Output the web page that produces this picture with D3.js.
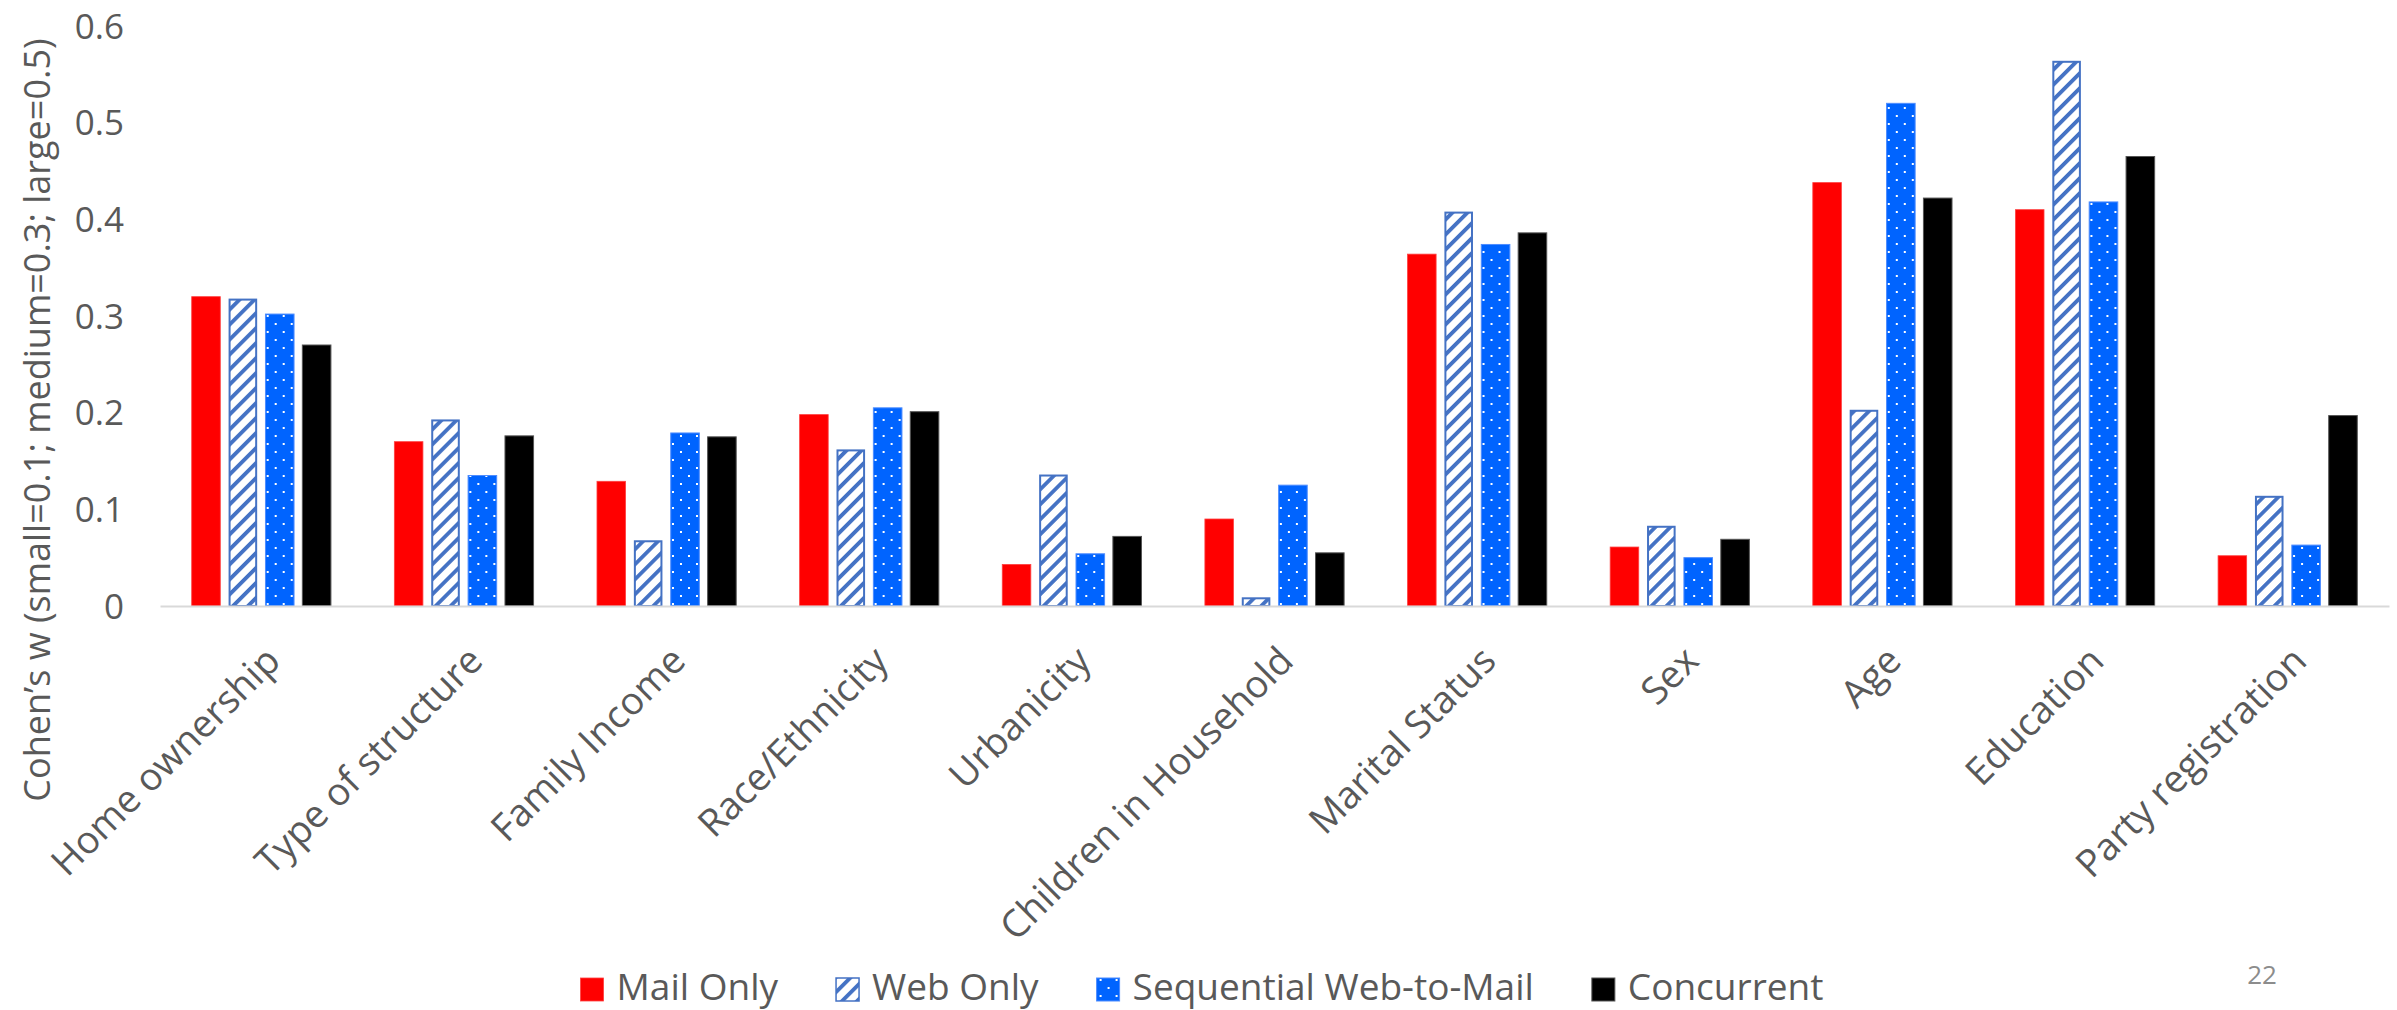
<!DOCTYPE html>
<html>
<head>
<meta charset="utf-8">
<script src="https://cdn.jsdelivr.net/npm/d3@7"></script>
<style>
  html, body { margin: 0; padding: 0; background: #ffffff; }
  svg { display: block; }
  text { font-family: "Open Sans", "Noto Sans", sans-serif; fill: #595959; }
</style>
</head>
<body>
<svg id="chart" width="2397" height="1010"></svg>
<script>
// Effect sizes (Cohen's w) of each survey mode, by respondent characteristic
const categories = [
  "Home ownership", "Type of structure", "Family Income", "Race/Ethnicity",
  "Urbanicity", "Children in Household", "Marital Status", "Sex", "Age",
  "Education", "Party registration"
];
const mailOnly   = [0.320, 0.170, 0.129, 0.198, 0.043, 0.090, 0.364, 0.061, 0.438, 0.410, 0.052];
const webOnly    = [0.318, 0.193, 0.068, 0.162, 0.136, 0.009, 0.408, 0.083, 0.203, 0.564, 0.114];
const sequential = [0.302, 0.135, 0.179, 0.205, 0.054, 0.125, 0.374, 0.050, 0.520, 0.418, 0.063];
const concurrent = [0.270, 0.176, 0.175, 0.201, 0.072, 0.055, 0.386, 0.069, 0.422, 0.465, 0.197];
const seriesNames = ["Mail Only", "Web Only", "Sequential Web-to-Mail", "Concurrent"];
const yTicks = [0, 0.1, 0.2, 0.3, 0.4, 0.5, 0.6];
const yTitle = "Cohen\u2019s w (small=0.1; medium=0.3; large=0.5)";
const pageNumber = "22";

const seriesValues = [mailOnly, webOnly, sequential, concurrent];
const series = seriesNames.map((name, i) => ({ name, values: seriesValues[i] }));

const svg = d3.select("#chart");
const defs = svg.append("defs");

// Upward diagonal hatch for "Web Only"
const hatch = defs.append("pattern")
  .attr("id", "hatch")
  .attr("patternUnits", "userSpaceOnUse")
  .attr("width", 10.6).attr("height", 10.6)
  .attr("patternTransform", "rotate(45)");
hatch.append("rect").attr("width", 10.6).attr("height", 10.6).attr("fill", "#ffffff");
hatch.append("rect").attr("width", 3.8).attr("height", 10.6).attr("fill", "#4472C4");

// Small white dots on blue for "Sequential Web-to-Mail"
const dots = defs.append("pattern")
  .attr("id", "dots")
  .attr("patternUnits", "userSpaceOnUse")
  .attr("width", 16).attr("height", 16);
dots.append("rect").attr("width", 16).attr("height", 16).attr("fill", "#0064FF");
dots.append("rect").attr("x", 3).attr("y", 3).attr("width", 2).attr("height", 2).attr("fill", "#ffffff");
dots.append("rect").attr("x", 11).attr("y", 11).attr("width", 2).attr("height", 2).attr("fill", "#ffffff");

const styles = [
  { fill: "#FF0000", stroke: "#FF4040", sw: 0.8 },
  { fill: "url(#hatch)", stroke: "#4472C4", sw: 2 },
  { fill: "url(#dots)", stroke: "#4d8cff", sw: 1 },
  { fill: "#000000", stroke: "#555555", sw: 1 }
];

const x0 = d3.scaleBand()
  .domain(categories)
  .range([160, 2389])
  .paddingInner(0.313)
  .paddingOuter(0.1565);

const x1 = d3.scaleBand()
  .domain(d3.range(series.length))
  .range([0, x0.bandwidth()])
  .paddingInner(0.225);

const y = d3.scaleLinear().domain([0, 0.6]).range([606, 26]);

// Bars
const groups = svg.append("g").selectAll("g")
  .data(categories)
  .join("g")
  .attr("transform", d => `translate(${x0(d)},0)`);

const inset = si => (styles[si].sw > 1 ? styles[si].sw / 2 : 0);
groups.selectAll("rect")
  .data((d, ci) => series.map((s, si) => ({ si, v: s.values[ci] })))
  .join("rect")
  .attr("x", d => x1(d.si) + inset(d.si))
  .attr("y", d => y(d.v) + inset(d.si))
  .attr("width", d => x1.bandwidth() - 2 * inset(d.si))
  .attr("height", d => Math.max(0, y(0) - y(d.v) - inset(d.si)))
  .attr("fill", d => styles[d.si].fill)
  .attr("stroke", d => styles[d.si].stroke)
  .attr("stroke-width", d => styles[d.si].sw);

// Category axis
const xAxis = svg.append("g")
  .attr("transform", `translate(0,${y(0)})`)
  .call(d3.axisBottom(x0).tickSize(0).tickSizeOuter(0));
xAxis.select(".domain").attr("stroke", "#D9D9D9").attr("stroke-width", 2);
xAxis.selectAll(".tick text")
  .attr("font-size", 38)
  .attr("fill", "#595959")
  .attr("text-anchor", "end")
  .attr("x", 0).attr("y", 0).attr("dy", 0)
  .attr("transform", "translate(21,57) rotate(-45)");

// Value axis
const yAxis = svg.append("g")
  .attr("transform", "translate(124,0)")
  .call(d3.axisLeft(y).tickValues(yTicks).tickFormat(d => d === 0 ? "0" : d3.format(".1f")(d)).tickSize(0).tickPadding(0));
yAxis.select(".domain").remove();
yAxis.selectAll(".tick text")
  .attr("font-size", 35)
  .attr("fill", "#595959")
  .attr("dy", "0.35em");

// Value axis title
svg.append("text")
  .attr("transform", "translate(50,420) rotate(-90)")
  .attr("text-anchor", "middle")
  .attr("font-size", 36)
  .text(yTitle);

// Legend
const legend = svg.append("g");
const items = legend.selectAll("g")
  .data(series)
  .join("g");
items.append("rect")
  .attr("width", 23).attr("height", 23)
  .attr("y", 978)
  .attr("fill", (d, i) => styles[i].fill)
  .attr("stroke", (d, i) => styles[i].stroke)
  .attr("stroke-width", (d, i) => Math.min(styles[i].sw, 1.5));
items.append("text")
  .attr("x", 36).attr("y", 1000)
  .attr("font-size", 37)
  .text(d => d.name);
let cursor = 0;
const offsets = [];
items.each(function() {
  offsets.push(cursor);
  const w = 36 + this.querySelector("text").getComputedTextLength();
  cursor += w + 58;
});
const total = cursor - 58;
const start = 1202 - total / 2;
items.attr("transform", (d, i) => `translate(${start + offsets[i]},0)`);

// Slide page number
svg.append("text")
  .attr("x", 2262).attr("y", 984)
  .attr("text-anchor", "middle")
  .attr("font-size", 26)
  .style("fill", "#8C8C8C")
  .text(pageNumber);
</script>
</body>
</html>
